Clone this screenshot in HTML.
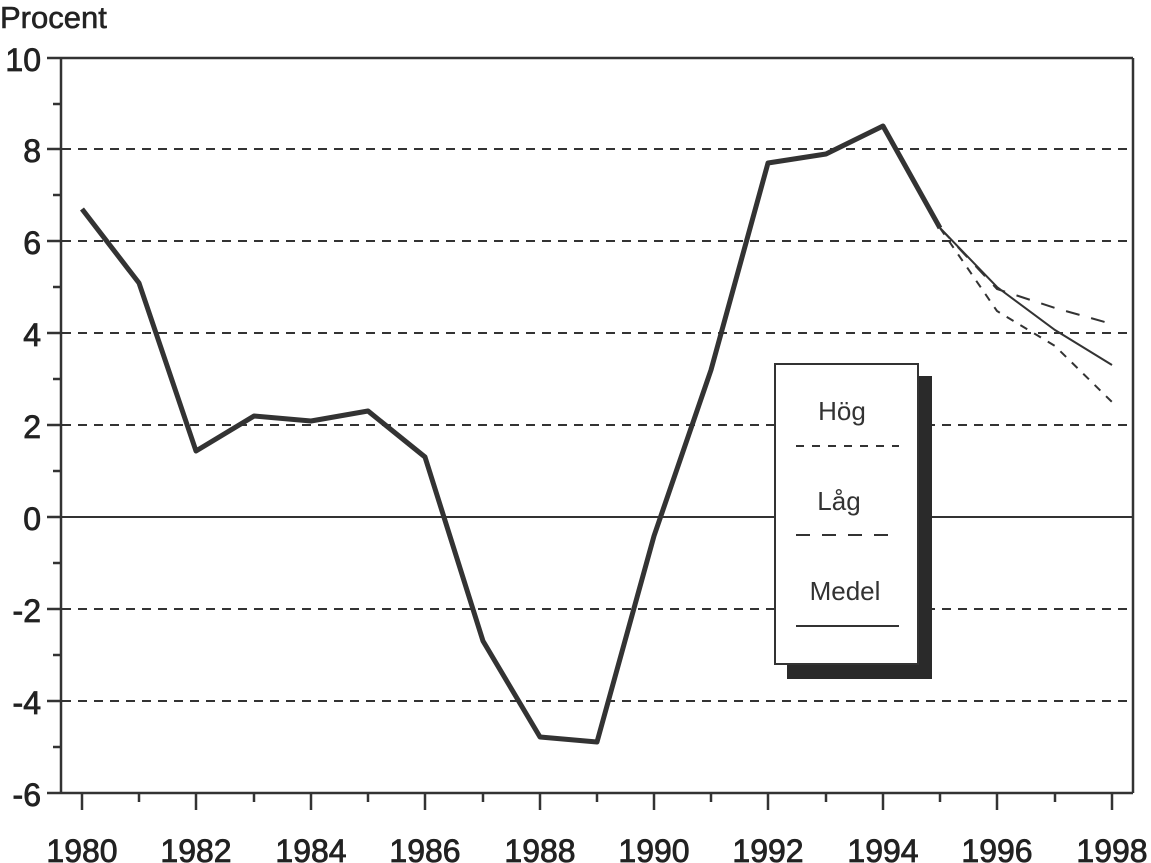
<!DOCTYPE html>
<html><head><style>body{margin:0;background:#fff}svg{display:block}</style></head><body>
<svg width="1151" height="863" viewBox="0 0 1151 863" xmlns="http://www.w3.org/2000/svg" font-family="Liberation Sans, sans-serif" fill="#222">
<text x="0" y="28" font-size="31" stroke="#222" stroke-width="0.6">Procent</text>
<g stroke="#333" stroke-width="2" stroke-dasharray="9,7">
<line x1="62" y1="149" x2="1133" y2="149"/>
<line x1="62" y1="241" x2="1133" y2="241"/>
<line x1="62" y1="333" x2="1133" y2="333"/>
<line x1="62" y1="425" x2="1133" y2="425"/>
<line x1="62" y1="609" x2="1133" y2="609"/>
<line x1="62" y1="701" x2="1133" y2="701"/>
</g>
<g stroke="#333" stroke-width="2.5" fill="none">
<line x1="61" y1="58" x2="1133" y2="58"/>
<line x1="1133" y1="58" x2="1133" y2="793"/>
<line x1="61" y1="58" x2="61" y2="793"/>
<line x1="47" y1="793" x2="1133" y2="793"/>
<line x1="61" y1="517" x2="1133" y2="517" stroke-width="2"/>
<path d="M47 58H61M47 149H61M47 241H61M47 333H61M47 425H61M47 517H61M47 609H61M47 701H61M53 104H61M53 195H61M53 287H61M53 379H61M53 471H61M53 563H61M53 655H61M53 747H61"/>
<path d="M82 793V810M139 793V802M196 793V810M254 793V802M311 793V810M368 793V802M425 793V810M483 793V802M540 793V810M597 793V802M654 793V810M711 793V802M768 793V810M826 793V802M883 793V810M940 793V802M997 793V810M1055 793V802M1112 793V810"/>
</g>
<g font-size="32" text-anchor="end" stroke="#222" stroke-width="0.8">
<text x="41" y="71">10</text><text x="41" y="162">8</text><text x="41" y="254">6</text><text x="41" y="346">4</text><text x="41" y="438">2</text><text x="41" y="530">0</text><text x="41" y="622">-2</text><text x="41" y="714">-4</text><text x="41" y="806">-6</text>
</g>
<g font-size="32" text-anchor="middle" stroke="#222" stroke-width="0.8">
<text x="82" y="862">1980</text><text x="196" y="862">1982</text><text x="311" y="862">1984</text><text x="425" y="862">1986</text><text x="540" y="862">1988</text><text x="654" y="862">1990</text><text x="768" y="862">1992</text><text x="883" y="862">1994</text><text x="997" y="862">1996</text><text x="1112" y="862">1998</text>
</g>
<polyline fill="none" stroke="#333" stroke-width="5" stroke-linejoin="round" points="82,209 139,283 196,451 254,416 311,421 368,411 425,457 483,641 540,737 597,742 654,536 711,370 768,163 826,154 883,126 940,228"/>
<polyline fill="none" stroke="#333" stroke-width="2" points="940,228 997,287 1055,330 1112,365"/>
<polyline fill="none" stroke="#333" stroke-width="2" stroke-dasharray="14,12" points="940,228 997,289 1055,308 1112,324"/>
<polyline fill="none" stroke="#333" stroke-width="2" stroke-dasharray="8,8" points="940,228 997,311 1055,346 1112,402"/>
<rect x="787" y="376" width="145" height="303" fill="#2a2a2a"/>
<rect x="775" y="364" width="143" height="300" fill="#fff" stroke="#333" stroke-width="2"/>
<g font-size="26" text-anchor="middle" fill="#333">
<text x="842" y="420">Hög</text><text x="839" y="510">Låg</text><text x="845" y="600">Medel</text>
</g>
<line x1="796" y1="446" x2="899" y2="446" stroke="#333" stroke-width="2" stroke-dasharray="8,8"/>
<line x1="796" y1="535" x2="899" y2="535" stroke="#333" stroke-width="2" stroke-dasharray="14,12"/>
<line x1="796" y1="626" x2="899" y2="626" stroke="#333" stroke-width="2"/>
</svg>
</body></html>
